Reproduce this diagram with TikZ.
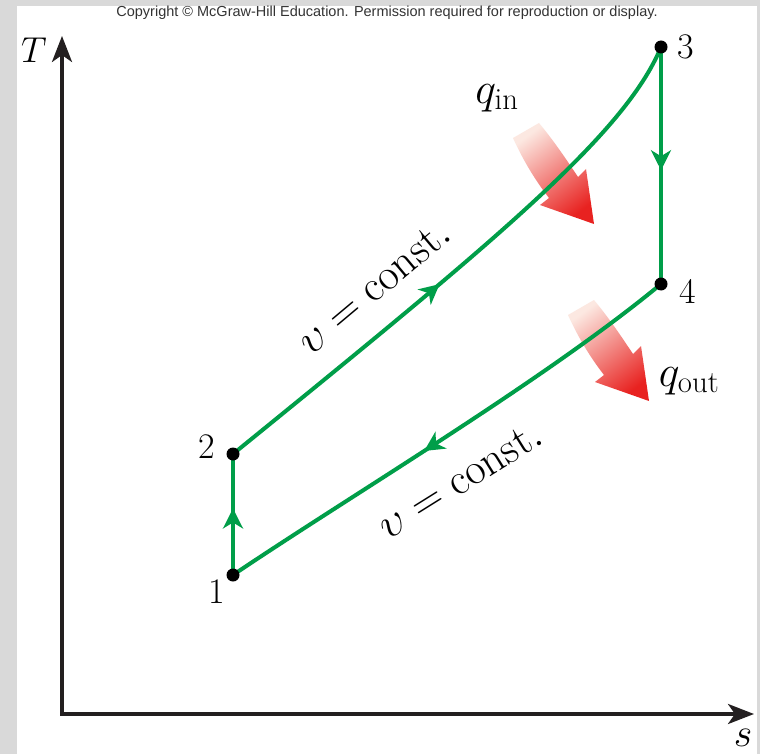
\RequirePackage{fix-cm}
\documentclass[tikz,border=0pt]{standalone}
\usepackage{fontspec}
\newfontfamily\cpfont{Liberation Sans}
\usetikzlibrary{arrows.meta,decorations.markings}
\definecolor{cyc}{RGB}{0,158,73}
\definecolor{axc}{RGB}{35,31,32}
\definecolor{bggray}{RGB}{217,217,217}
\definecolor{heatlo}{RGB}{252,232,225}
\definecolor{heathi}{RGB}{232,34,32}
\tikzset{axtip/.tip={Stealth[length=26pt,width=20pt,inset=7pt]}}
\begin{document}
\begin{tikzpicture}[x=1pt,y=-1pt,
  greenline/.style={draw=cyc,line width=4pt},
  midarr/.style={postaction={decorate},decoration={markings,mark=at position #1 with {\arrow{Stealth[length=20pt,width=20pt,inset=6pt]}}}},
  lbl/.style={font=\fontsize{36}{40}\selectfont,inner sep=0pt},
  qlbl/.style={font=\fontsize{44}{48}\selectfont,inner sep=0pt},
  constlbl/.style={font=\fontsize{44}{48}\selectfont,inner sep=0pt},
  dot/.style={circle,fill=black,minimum size=13pt,inner sep=0pt},
  heatarrow/.pic={\shade[top color=heatlo,bottom color=heathi,shading angle=37]
    (0,0) .. controls (10,22) and (22,42) .. (36,60) -- (27,67) -- (81,86) -- (73,31) -- (65,39)
    .. controls (53,21) and (41,3) .. (26,-15) -- cycle;}]
\path[use as bounding box] (0,0) rectangle (760,754);
\fill[bggray] (0,0) rectangle (760,754);
\fill[white] (17,6) rectangle (757,754);
% copyright
\node[font=\cpfont\fontsize{14.5}{16}\selectfont,text=black!80,inner sep=0pt] (cp) at (387,13)
  {Copyright © McGraw-Hill Education. Permission required for reproduction or display.};
% axes
\coordinate (O) at (62,714);
\coordinate (Ttop) at (62,36);
\coordinate (Send) at (754,714);
\draw[axc,line width=3.5pt,line join=miter,axtip-axtip] (Ttop) -- (O) -- (Send);
\node[lbl] (Tl) at (34,50) {$T$};
\node[font=\fontsize{40}{44}\selectfont,inner sep=0pt] (sl) at (743,738) {$s$};
% heat arrows
\pic at (513,138) {heatarrow};
\pic at (568,315) {heatarrow};
% cycle
\coordinate (p1) at (233,575);
\coordinate (p2) at (233,454);
\coordinate (p3) at (661,47);
\coordinate (p4) at (661,284);
\draw[greenline,midarr=0.55] (p1) -- (p2);
\draw[greenline,midarr=0.45] (p2) .. controls (490,245) and (625,135) .. (p3);
\draw[greenline,midarr=0.52] (p3) -- (p4);
\draw[greenline,midarr=0.56] (p4) .. controls (545,380) and (350,496) .. (p1);
\node[dot] (d1) at (p1) {};
\node[dot] (d2) at (p2) {};
\node[dot] (d3) at (p3) {};
\node[dot] (d4) at (p4) {};
\node[lbl] (n1) at (217,592) {1};
\node[lbl] (n2) at (207,447) {2};
\node[lbl] (n3) at (686,47) {3};
\node[lbl] (n4) at (688,291) {4};
\node[qlbl] (qin) at (497,98) {$q_{\mathrm{in}}$};
\node[qlbl] (qout) at (689,381) {$q_{\mathrm{out}}$};
\node[constlbl,rotate=40] (c1) at (374,287) {$\upsilon = \mathrm{const.}$};
\node[constlbl,rotate=32] (c2) at (460,480) {$\upsilon = \mathrm{const.}$};
\end{tikzpicture}
\end{document}
